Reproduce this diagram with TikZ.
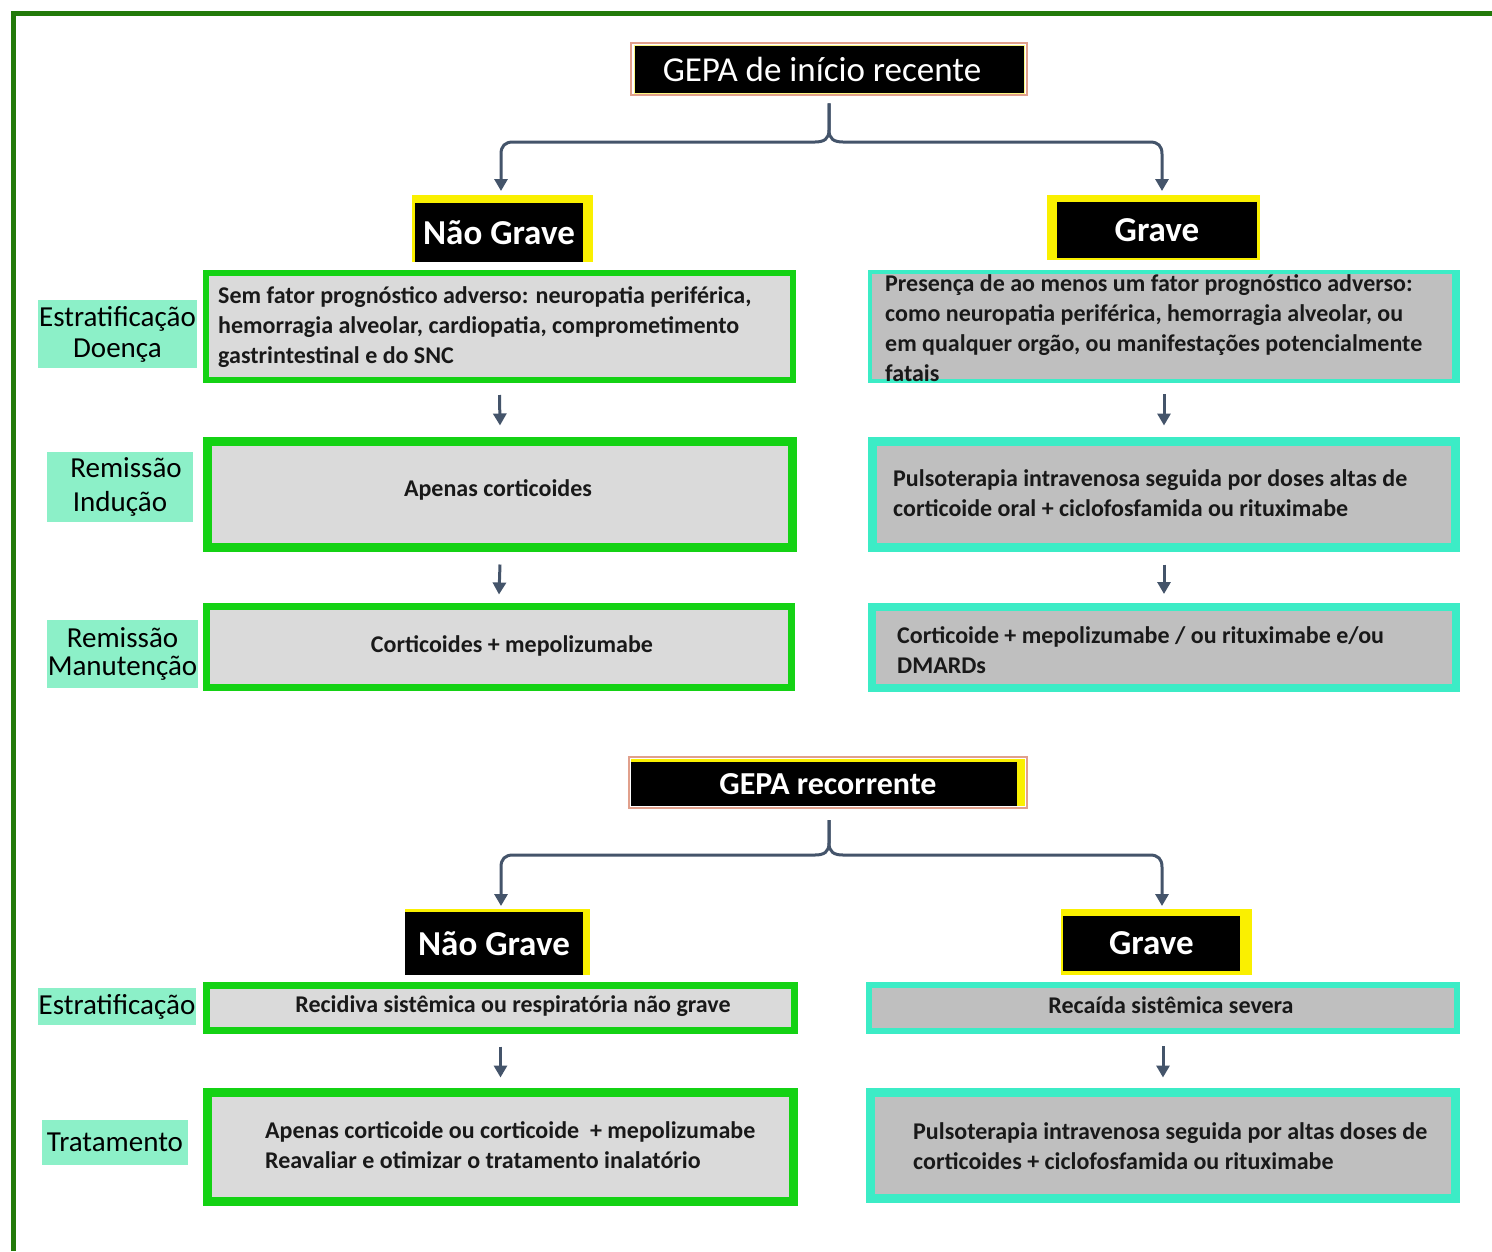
\documentclass[tikz,border=0pt]{standalone}
\usepackage{fontspec}
\setmainfont{Carlito}
\usetikzlibrary{arrows.meta}
\definecolor{framec}{RGB}{34,122,10}
\definecolor{lgreen}{RGB}{20,210,20}
\definecolor{turq}{RGB}{60,236,198}
\definecolor{mint}{RGB}{140,240,200}
\definecolor{lgray}{RGB}{218,218,218}
\definecolor{dgray}{RGB}{191,191,191}
\definecolor{arrowc}{RGB}{68,84,106}
\definecolor{pinkb}{RGB}{225,160,140}
\definecolor{yel}{RGB}{250,240,0}
\tikzset{
 lbox/.style={draw=lgreen, fill=lgray, inner sep=0pt},
 rbox/.style={draw=turq, fill=dgray, inner sep=0pt},
 lab/.style={fill=mint, inner sep=0pt, align=center, font=\fontsize{29}{31}\selectfont},
 btxt/.style={inner sep=0pt, align=left, anchor=west, font=\fontsize{24}{30}\selectfont\bfseries, text=black!90},
 ctxt/.style={inner sep=0pt, align=center, font=\fontsize{24}{30}\selectfont\bfseries, text=black!90},
 hdr/.style={fill=black, text=white, inner sep=0pt, font=\fontsize{35}{40}\selectfont\bfseries},
 con/.style={draw=arrowc, line width=3pt, -{Triangle[width=13pt,length=12pt]}},
}
\begin{document}
\begin{tikzpicture}[x=1pt,y=-1pt]
\useasboundingbox (0,0) rectangle (1492,1251);
\fill[white] (0,0) rectangle (1492,1251);

% ---------- top section ----------
\draw[pinkb, line width=1.5pt] (631,43) rectangle (1027,95);
\node[fill=black, draw=yel!50!white, line width=0.8pt, minimum width=390pt, minimum height=48pt, inner sep=0pt, text=white, font=\fontsize{35}{40}\selectfont] (t1) at (829,69) {\hspace*{-14pt}GEPA de início recente};

\fill[yel] (412,195) rectangle (593,262);
\node[hdr, minimum width=168pt, minimum height=59pt] (ng1) at (499,232.5) {Não Grave};
\fill[yel] (1047,195) rectangle (1260,260);
\node[hdr, minimum width=200pt, minimum height=56pt] (g1) at (1157,230) {Grave};

\coordinate (ng1tip) at (501,191);
\coordinate (g1tip) at (1162,191);
\draw[con] ([yshift=-10pt]t1.south) -- (829,130) .. controls (829,139) and (824,142) .. (815,142) -- (513,142) .. controls (505,142) and (501,146) .. (501,154) -- (ng1tip);
\draw[con] ([yshift=-10pt]t1.south) -- (829,130) .. controls (829,139) and (834,142) .. (843,142) -- (1150,142) .. controls (1158,142) and (1162,146) .. (1162,154) -- (g1tip);

% labels
\node[lab, minimum width=159pt, minimum height=68pt] (S1) at (117.5,334) {Estratificação\\Doença};
\node[lab, minimum width=146pt, minimum height=70pt, font=\fontsize{29}{34}\selectfont] (S2) at (120,487) {\hspace*{12pt}Remissão\\Indução};
\node[lab, minimum width=151pt, minimum height=68pt, font=\fontsize{29}{28}\selectfont] (S3) at (122.5,654) {Remissão\\Manutenção};

% left boxes
\node[lbox, line width=6pt, minimum width=587pt, minimum height=107pt] (L1) at (499.5,326.5) {};
\node[btxt] (L1t) at (218,327) {Sem fator prognóstico adverso: neuropatia periférica,\\hemorragia alveolar, cardiopatia, comprometimento\\gastrintestinal e do SNC};
\node[lbox, line width=9pt, minimum width=585pt, minimum height=106pt] (L2) at (500,494.5) {};
\node[ctxt] (L2t) at (498,490) {Apenas corticoides};
\node[lbox, line width=7pt, minimum width=585pt, minimum height=81pt] (L3) at (499,647) {};
\node[ctxt] (L3t) at (512,646) {Corticoides + mepolizumabe};

% right boxes
\node[rbox, line width=4pt, minimum width=588pt, minimum height=109pt] (R1) at (1164,326.5) {};
\fill[turq] (1452,270) rectangle (1460,383);
\node[btxt] (R1t) at (885,328.5) {Presença de ao menos um fator prognóstico adverso:\\como neuropatia periférica, hemorragia alveolar, ou\\em qualquer orgão, ou manifestações potencialmente\\fatais};
\node[rbox, line width=9pt, minimum width=583pt, minimum height=106pt] (R2) at (1164,494.5) {};
\node[btxt] (R2t) at (893,493) {Pulsoterapia intravenosa seguida por doses altas de\\corticoide oral + ciclofosfamida ou rituximabe};
\node[rbox, line width=8pt, minimum width=584pt, minimum height=81pt] (R3) at (1164,647.5) {};
\node[btxt] (R3t) at (897,650) {Corticoide + mepolizumabe / ou rituximabe e/ou\\DMARDs};

\draw[con] ([yshift=-12pt]L1.south) -- ([yshift=11.5pt]L2.north);
\draw[con] ([yshift=-12.5pt]L2.south) -- ([yshift=8.5pt]L3.north);
\draw[con] ([yshift=-11pt]R1.south) -- ([yshift=11.5pt]R2.north);
\draw[con] ([yshift=-12.5pt]R2.south) -- ([yshift=9pt]R3.north);

% ---------- bottom section ----------
\draw[pinkb, line width=1.5pt] (629,757) rectangle (1027,808);
\fill[yel] (631,759) rectangle (1025,806);
\node[hdr, font=\fontsize{32}{36}\selectfont\bfseries, minimum width=386pt, minimum height=44pt] (t2) at (824,784) {\hspace*{8pt}GEPA recorrente};

\fill[yel] (405,909) rectangle (590,975);
\node[hdr, minimum width=178pt, minimum height=63pt] (ng2) at (494,943.5) {Não Grave};
\fill[yel] (1061,909) rectangle (1252,975);
\node[hdr, minimum width=177pt, minimum height=55pt] (g2) at (1151.5,943.5) {Grave};

\coordinate (ng2tip) at (501,906);
\coordinate (g2tip) at (1162,906);
\draw[con] ([xshift=5pt,yshift=-14pt]t2.south) -- (829,843) .. controls (829,852) and (824,855) .. (815,855) -- (513,855) .. controls (505,855) and (501,859) .. (501,867) -- (ng2tip);
\draw[con] ([xshift=5pt,yshift=-14pt]t2.south) -- (829,843) .. controls (829,852) and (834,855) .. (843,855) -- (1150,855) .. controls (1158,855) and (1162,859) .. (1162,867) -- (g2tip);

\node[lab, minimum width=158pt, minimum height=37pt] (S4) at (117,1006.5) {Estratificação};
\node[lab, minimum width=146pt, minimum height=45pt] (S5) at (115,1142.5) {Tratamento};

\node[lbox, line width=7pt, minimum width=588pt, minimum height=45pt] (L4) at (500.5,1008) {};
\node[ctxt] (L4t) at (513,1006) {Recidiva sistêmica ou respiratória não grave};
\node[lbox, line width=9pt, minimum width=586pt, minimum height=109pt] (L5) at (500.5,1147) {};
\node[btxt] (L5t) at (265,1145) {Apenas corticoide ou corticoide \ + mepolizumabe\\Reavaliar e otimizar o tratamento inalatório};

\node[rbox, line width=6pt, minimum width=588pt, minimum height=46pt] (R4) at (1163,1008) {};
\node[ctxt] (R4t) at (1171,1005) {Recaída sistêmica severa};
\node[rbox, line width=9pt, minimum width=585pt, minimum height=106pt] (R5) at (1163,1145.5) {};
\node[btxt] (R5t) at (913,1146) {Pulsoterapia intravenosa seguida por altas doses de\\corticoides + ciclofosfamida ou rituximabe};

\draw[con] ([yshift=-12.5pt]L4.south) -- ([yshift=10.5pt]L5.north);
\draw[con] ([yshift=-12pt]R4.south) -- ([yshift=10.5pt]R5.north);

% frame
\fill[framec] (11,11) rectangle (1492,16);
\fill[framec] (11,11) rectangle (16,1251);
\end{tikzpicture}
\end{document}
